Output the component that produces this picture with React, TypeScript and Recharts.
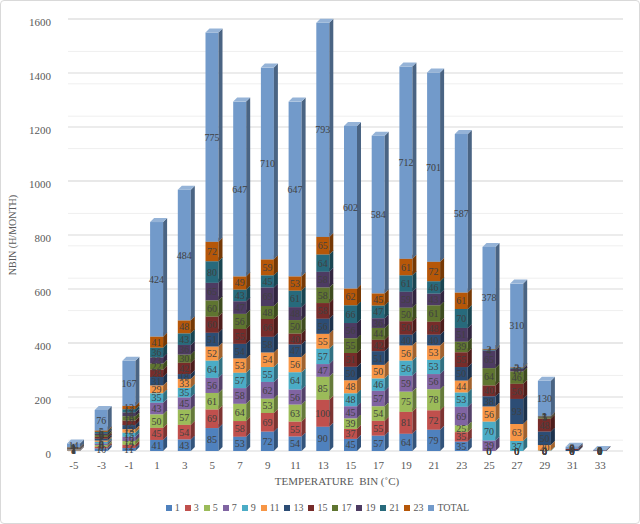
import { BarChart, Bar, XAxis, YAxis, CartesianGrid, Legend, LabelList, Label } from "recharts";

document.body.style.margin = "0";

const FONT = "'Liberation Serif', 'Times New Roman', serif";

// temperature bins (°C)
const bins = ["-5", "-3", "-1", "1", "3", "5", "7", "9", "11", "13", "15", "17", "19", "21", "23", "25", "27", "29", "31", "33"];

// hours per month in each bin, by hour of day
const h1 = [1, 10, 11, 41, 43, 85, 53, 72, 54, 90, 45, 57, 64, 79, 35, 0, 0, 0, 0, 0];
const h3 = [1, 6, 12, 45, 54, 69, 58, 69, 55, 100, 37, 55, 81, 72, 35, 0, 0, 0, 0, 0];
const h5 = [1, 6, 14, 50, 57, 61, 64, 53, 63, 85, 39, 54, 75, 78, 25, 0, 0, 0, 0, 0];
const h7 = [1, 6, 16, 43, 45, 56, 58, 62, 56, 47, 45, 57, 59, 56, 69, 39, 0, 0, 0, 0];
const h9 = [1, 6, 15, 35, 35, 64, 57, 55, 64, 57, 48, 46, 56, 53, 53, 70, 37, 2, 0, 0];
const h11 = [1, 5, 13, 29, 33, 52, 53, 54, 56, 55, 48, 50, 56, 53, 44, 56, 63, 20, 0, 0];
const h13 = [2, 7, 15, 31, 18, 51, 54, 58, 47, 56, 50, 51, 40, 40, 50, 38, 93, 50, 4, 1];
const h15 = [2, 7, 17, 28, 42, 60, 55, 66, 40, 58, 51, 42, 50, 48, 55, 40, 56, 48, 4, 1];
const h17 = [1, 6, 16, 22, 30, 60, 56, 48, 50, 58, 55, 44, 50, 61, 39, 64, 46, 5, 0, 0];
const h19 = [1, 6, 14, 23, 36, 65, 47, 69, 48, 58, 56, 36, 59, 43, 51, 65, 10, 3, 0, 0];
const h21 = [1, 6, 12, 36, 43, 80, 43, 45, 61, 64, 66, 47, 61, 46, 70, 4, 3, 1, 0, 0];
const h23 = [1, 5, 12, 41, 48, 72, 49, 59, 53, 65, 62, 45, 61, 72, 61, 2, 2, 1, 0, 0];
const totals = [14, 76, 167, 424, 484, 775, 647, 710, 647, 793, 602, 584, 712, 701, 587, 378, 310, 130, 8, 2];

const yTicks = [0, 200, 400, 600, 800, 1000, 1200, 1400, 1600];
const minorLines = Array.from({ length: 41 }, (_, i) => i * 40);

const series = [
  { key: "h1", name: "1", values: h1, color: "#4F81BD" },
  { key: "h3", name: "3", values: h3, color: "#C0504D" },
  { key: "h5", name: "5", values: h5, color: "#9BBB59" },
  { key: "h7", name: "7", values: h7, color: "#8064A2" },
  { key: "h9", name: "9", values: h9, color: "#4BACC6" },
  { key: "h11", name: "11", values: h11, color: "#F79646" },
  { key: "h13", name: "13", values: h13, color: "#2C4D75" },
  { key: "h15", name: "15", values: h15, color: "#772C2A" },
  { key: "h17", name: "17", values: h17, color: "#5F7530" },
  { key: "h19", name: "19", values: h19, color: "#4D3B62" },
  { key: "h21", name: "21", values: h21, color: "#276A7C" },
  { key: "h23", name: "23", values: h23, color: "#B65708" },
  { key: "total", name: "TOTAL", values: totals, color: "#729ACA" },
];

const data = bins.map((bin, i) => {
  const row: Record<string, string | number> = { bin };
  series.forEach((s) => {
    row[s.key] = s.values[i];
  });
  return row;
});

function shade(hex: string, f: number) {
  const n = parseInt(hex.slice(1), 16);
  const ch = [(n >> 16) & 255, (n >> 8) & 255, n & 255];
  const m = ch.map((c) => Math.round(f < 0 ? c * (1 + f) : c + (255 - c) * f));
  return `rgb(${m[0]},${m[1]},${m[2]})`;
}

const DEPTH = 4;

// front face plus a darker side and lighter top, like Excel's 3-D columns
function Box(props: any) {
  const { x, y, width, height, fill } = props;
  if (!height || height <= 0) return <g />;
  const d = DEPTH;
  const side = `${x + width},${y} ${x + width + d},${y - d} ${x + width + d},${y + height - d} ${x + width},${y + height}`;
  const top = `${x},${y} ${x + d},${y - d} ${x + width + d},${y - d} ${x + width},${y}`;
  return (
    <g>
      <rect x={x} y={y} width={width} height={height} fill={fill} />
      <polygon points={side} fill={shade(fill, -0.35)} />
      <polygon points={top} fill={shade(fill, 0.25)} />
    </g>
  );
}

const order = series.map((s) => s.name);

function LegendRow(props: any) {
  const items = [...(props.payload || [])].sort(
    (a: any, b: any) => order.indexOf(a.value) - order.indexOf(b.value)
  );
  return (
    <div style={{ display: "flex", justifyContent: "center", fontFamily: FONT, fontSize: 10, color: "#595959", lineHeight: "12px" }}>
      {items.map((it: any) => (
        <span key={it.value} style={{ display: "inline-flex", alignItems: "center", marginRight: 5 }}>
          <span style={{ width: 6, height: 6, background: it.color, marginRight: 3, display: "inline-block" }} />
          {it.value}
        </span>
      ))}
    </div>
  );
}

export default function App() {
  return (
    <div style={{ width: 640, height: 524, position: "relative", boxSizing: "border-box", border: "1px solid #d9d9d9", borderRadius: 4, background: "#fff" }}>
      <div style={{ position: "absolute", left: -1, top: -1 }}>
        <BarChart width={640} height={524} data={data} margin={{ top: 19, right: 26, bottom: 37, left: 0 }}>
          <CartesianGrid vertical={false} horizontalValues={minorLines} stroke="#efefef" x={68} width={555} />
          <CartesianGrid vertical={false} horizontalValues={yTicks} stroke="#d9d9d9" x={68} width={555} />
          <XAxis
            dataKey="bin"
            axisLine={false}
            tickLine={false}
            tickMargin={4}
            height={36}
            interval={0}
            tick={{ fill: "#595959", fontSize: 11, fontFamily: FONT }}
          >
            <Label value={"TEMPERATURE\u00a0 BIN (\u02daC)"} position="insideBottom" offset={2} fill="#595959" fontSize={11} fontFamily={FONT} />
          </XAxis>
          <YAxis
            domain={[0, 1600]}
            ticks={yTicks}
            width={60}
            axisLine={false}
            tickLine={false}
            tickMargin={3}
            tick={{ fill: "#595959", fontSize: 11, fontFamily: FONT, dy: 3 }}
          >
            <Label value="NBIN (H/MONTH)" angle={-90} position="center" dx={-18} fill="#595959" fontSize={10} fontFamily={FONT} />
          </YAxis>
          <Legend
            verticalAlign="middle"
            content={<LegendRow />}
            wrapperStyle={{ top: 502, left: 0, width: 640 }}
          />
          {series.map((s) => (
            <Bar
              key={s.key}
              dataKey={s.key}
              name={s.name}
              stackId="a"
              fill={s.color}
              barSize={13}
              shape={<Box />}
              isAnimationActive={false}
            >
              <LabelList dataKey={s.key} position="center" fill="#404040" fontSize={10} fontFamily={FONT} />
            </Bar>
          ))}
        </BarChart>
      </div>
    </div>
  );
}
